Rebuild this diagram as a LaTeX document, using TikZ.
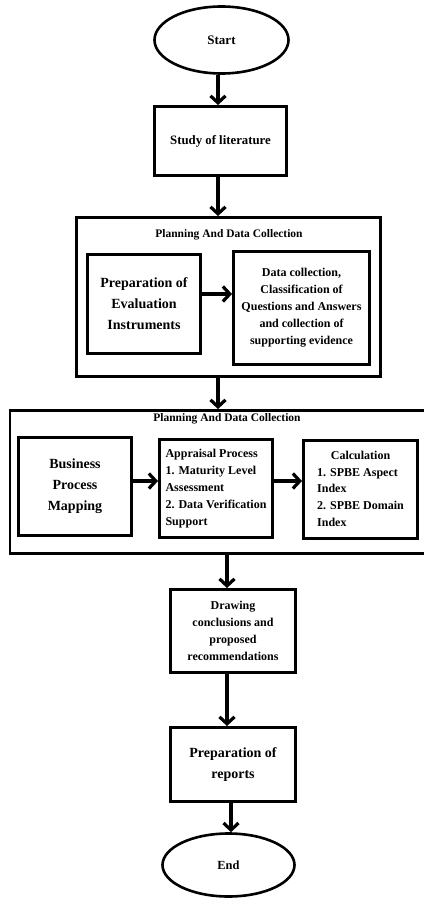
\documentclass[tikz,border=0pt]{standalone}
\usepackage{fontspec}
\setmainfont{Liberation Serif}
\usetikzlibrary{shapes.geometric,arrows.meta}
\tikzset{
  box/.style={draw=black, line width=2.9pt, inner sep=0pt, font=\bfseries\fontsize{12}{17}\selectfont, align=center},
  oval/.style={draw=black, line width=2.6pt, ellipse, inner sep=0pt, font=\bfseries\fontsize{13}{16}\selectfont},
  big/.style={font=\bfseries\fontsize{14}{21}\selectfont},
  ttl/.style={font=\bfseries\fontsize{11.5}{14}\selectfont, inner sep=0pt},
  arr/.style={line width=3.2pt, -{Straight Barb[length=7pt,width=15pt,line width=3.2pt]}}
}
\begin{document}
\begin{tikzpicture}[x=1pt,y=-1pt]
\useasboundingbox (0,0) rectangle (423,901);
% nodes
\node[oval, minimum width=134pt, minimum height=67pt] (start) at (221.5,40) {Start};
\node[box, minimum width=132pt, minimum height=69pt, font=\bfseries\fontsize{12.8}{16}\selectfont] (study) at (220.5,141) {Study of literature};
\node[box, minimum width=304pt, minimum height=159pt] (outer1) at (228.5,297) {};
\node[ttl] (title1) at (229,235) {Planning And Data Collection};
\node[box, big, minimum width=113pt, minimum height=99pt] (A) at (144,304) {Preparation of\\Evaluation\\Instruments};
\node[box, minimum width=136pt, minimum height=113pt] (B) at (301.5,308) {Data collection,\\Classification of\\Questions and Answers\\and collection of\\supporting evidence};
\node[box, minimum width=430pt, minimum height=143pt] (outer2) at (225,482) {};
\node[ttl] (title2) at (227,419) {Planning And Data Collection};
\node[box, big, minimum width=113pt, minimum height=98pt] (C) at (75,486.5) {Business\\Process\\Mapping};
\node[box, align=left, minimum width=113pt, minimum height=98pt] (D) at (216,488.5) {Appraisal Process\\1. Maturity Level\\Assessment\\2. Data Verification\\Support};
\node[box, minimum width=114pt, minimum height=98pt] (E) at (360.5,489.5) {\renewcommand{\arraystretch}{0.98}\begin{tabular}{@{}l@{}}\multicolumn{1}{@{}c@{}}{Calculation}\\1. SPBE Aspect\\Index\\2. SPBE Domain\\Index\end{tabular}};
\node[box, minimum width=125pt, minimum height=83pt] (drawing) at (233,631) {Drawing\\conclusions and\\proposed\\recommendations};
\node[box, big, minimum width=125pt, minimum height=74pt] (reports) at (233,764.5) {Preparation of\\reports};
\node[oval, minimum width=132pt, minimum height=63pt, font=\bfseries\fontsize{12.4}{15}\selectfont] (end) at (228.5,865) {End};
% connectors
\draw[arr] ([xshift=-3.5pt]start.south) -- ([xshift=-3.5pt]start.south |- study.north);
\draw[arr] ([xshift=-2.5pt]study.south) -- ([xshift=-2.5pt]study.south |- outer1.north);
\draw[arr] ([yshift=10pt]A.east) -- ([yshift=10pt]A.east -| B.west);
\draw[arr] ([xshift=-10.5pt]outer1.south) -- ([xshift=-10.5pt]outer1.south |- outer2.north);
\draw[arr] ([yshift=5.5pt]C.east) -- ([yshift=5.5pt]C.east -| D.west);
\draw[arr] ([yshift=7.5pt]D.east) -- ([yshift=7.5pt]D.east -| E.west);
\draw[arr] ([xshift=2pt]outer2.south) -- ([xshift=2pt]outer2.south |- drawing.north);
\draw[arr] ([xshift=-6pt]drawing.south) -- ([xshift=-6pt]drawing.south |- reports.north);
\draw[arr] ([xshift=-2pt]reports.south) -- ([xshift=-2pt]reports.south |- end.north);
\end{tikzpicture}
\end{document}
